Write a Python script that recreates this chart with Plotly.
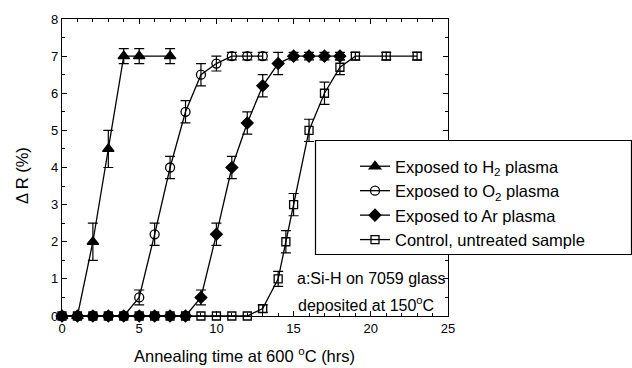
import plotly.graph_objects as go

# ---- data ----
h2_x = [0, 1, 2, 3, 4, 5, 7]
h2_y = [0, 0, 2.0, 4.5, 7.0, 7.0, 7.0]
h2_err = [0, 0, 0.5, 0.5, 0.2, 0.2, 0.2]

o2_x = [0, 1, 2, 3, 4, 5, 6, 7, 8, 9, 10, 11, 12, 13]
o2_y = [0, 0, 0, 0, 0, 0.5, 2.2, 4.0, 5.5, 6.5, 6.8, 7.0, 7.0, 7.0]
o2_err = [0, 0, 0, 0, 0, 0.2, 0.3, 0.3, 0.3, 0.3, 0.2, 0.1, 0.1, 0.1]

ar_x = [0, 1, 2, 3, 4, 5, 6, 7, 8, 9, 10, 11, 12, 13, 14, 15, 16, 17, 18]
ar_y = [0, 0, 0, 0, 0, 0, 0, 0, 0, 0.5, 2.2, 4.0, 5.2, 6.2, 6.8, 7.0, 7.0, 7.0, 7.0]
ar_err = [0, 0, 0, 0, 0, 0, 0, 0, 0, 0.2, 0.3, 0.3, 0.3, 0.3, 0.3, 0.1, 0.1, 0.1, 0.1]

ct_x = [0, 1, 2, 3, 4, 5, 6, 7, 8, 9, 10, 11, 12, 13, 14, 14.5, 15, 16, 17, 18, 19, 21, 23]
ct_y = [0, 0, 0, 0, 0, 0, 0, 0, 0, 0, 0, 0, 0, 0.2, 1.0, 2.0, 3.0, 5.0, 6.0, 6.7, 7.0, 7.0, 7.0]
ct_err = [0, 0, 0, 0, 0, 0, 0, 0, 0, 0, 0, 0, 0, 0.1, 0.2, 0.3, 0.3, 0.3, 0.3, 0.2, 0.1, 0.1, 0.1]

x_ticks = [0, 5, 10, 15, 20, 25]
y_ticks = [0, 1, 2, 3, 4, 5, 6, 7, 8]

# ---- layout geometry (pixels) ----
W, H = 632, 368
L, R, T, B = 62, 448, 19, 316
pw, ph = R - L, B - T

def px(xp):
    return (xp - L) / pw

def py(yp):
    return (B - yp) / ph

FONT = "Liberation Sans, Arial, sans-serif"

fig = go.Figure()

def add(xs, ys, errs, name, symbol, size, rank):
    fig.add_trace(go.Scatter(
        x=xs, y=ys, name=name, mode="lines+markers", legendrank=rank,
        cliponaxis=False,
        line=dict(color="black", width=1.3),
        marker=dict(symbol=symbol, size=size, color="black",
                    line=dict(color="black", width=1.3)),
        error_y=dict(type="data", array=errs, visible=True,
                     color="black", thickness=1.2, width=5),
    ))

add(ct_x, ct_y, ct_err, "Control, untreated sample", "square-open", 8, 4)
add(o2_x, o2_y, o2_err, "Exposed to O<sub>2</sub> plasma", "circle-open", 9, 2)
add(ar_x, ar_y, ar_err, "Exposed to Ar plasma", "diamond", 9, 3)
add(h2_x, h2_y, h2_err, "Exposed to H<sub>2</sub> plasma", "triangle-up", 10, 1)

axis_common = dict(
    showline=True, linecolor="black", linewidth=1.3, mirror="ticks",
    ticks="inside", ticklen=5, tickwidth=1.2, tickcolor="black",
    showgrid=False, zeroline=False,
    tickfont=dict(family=FONT, size=13, color="black"),
)

fig.update_xaxes(range=[0, 25], tickvals=x_ticks, ticktext=[str(v) for v in x_ticks],
                 minor=dict(dtick=1, ticks="inside", ticklen=3, tickcolor="black", tickwidth=1),
                 **axis_common)
fig.update_yaxes(range=[0, 8], tickvals=y_ticks, ticktext=[str(v) for v in y_ticks],
                 minor=dict(dtick=0.5, ticks="inside", ticklen=3, tickcolor="black", tickwidth=1),
                 **axis_common)

# legend box
fig.add_shape(type="rect", xref="paper", yref="paper",
              x0=px(315.5), x1=px(631.5), y0=py(254.5), y1=py(140.5),
              line=dict(color="black", width=1.2), fillcolor="white", layer="above")

fig.update_layout(
    width=W, height=H,
    margin=dict(l=L, r=W - R, t=T, b=H - B),
    paper_bgcolor="white", plot_bgcolor="white",
    showlegend=True,
    legend=dict(x=px(355), y=py(149), xanchor="left", yanchor="top",
                bgcolor="rgba(0,0,0,0)", borderwidth=0,
                traceorder="normal",
                font=dict(family=FONT, size=16.5, color="black"),
                tracegroupgap=0, itemwidth=30),
    annotations=[
        dict(text="a:Si-H on 7059 glass", x=px(295), y=py(278), xref="paper", yref="paper",
             xanchor="left", yanchor="middle", showarrow=False,
             font=dict(family=FONT, size=16, color="black")),
        dict(text="deposited at 150<sup>o</sup>C", x=px(296), y=py(304), xref="paper", yref="paper",
             xanchor="left", yanchor="middle", showarrow=False,
             font=dict(family=FONT, size=16, color="black")),
        dict(text="Annealing time at 600 <sup>o</sup>C (hrs)", x=px(244), y=py(367),
             xref="paper", yref="paper", xanchor="center", yanchor="bottom", showarrow=False,
             font=dict(family=FONT, size=16.5, color="black")),
        dict(text="\u0394 R (%)", x=px(22), y=py(176), xref="paper", yref="paper",
             xanchor="center", yanchor="middle", showarrow=False, textangle=-90,
             font=dict(family=FONT, size=16.5, color="black")),
    ],
)

fig.write_html("out.html")
